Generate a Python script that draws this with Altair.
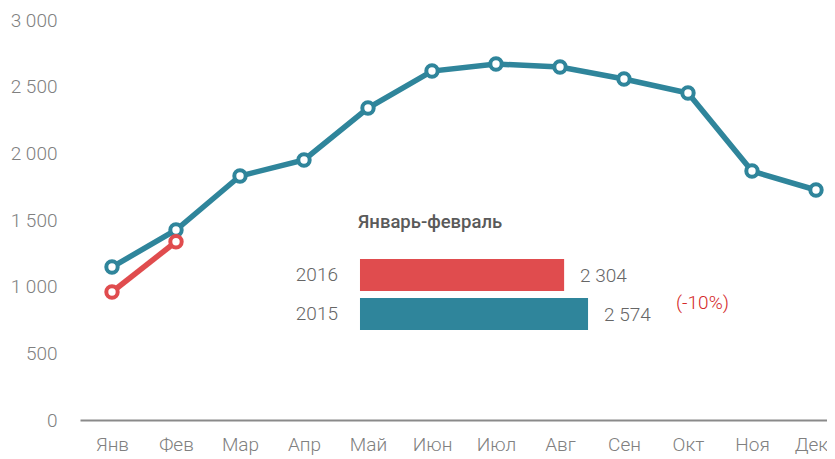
import altair as alt
import pandas as pd

months = ["Янв", "Фев", "Мар", "Апр", "Май", "Июн", "Июл", "Авг", "Сен", "Окт", "Ноя", "Дек"]
values_2015 = [1147, 1425, 1830, 1950, 2340, 2617, 2670, 2647, 2557, 2452, 1867, 1725]
values_2016 = [960, 1337]
y_ticks = [0, 500, 1000, 1500, 2000, 2500, 3000]

inset_title = "Январь-февраль"
inset_years = ["2016", "2015"]
inset_values = [2304, 2574]

TEAL = "#2f859b"
RED = "#e04c4e"
FONT = "Roboto"

rows = []
for i, v in enumerate(values_2015):
    rows.append({"idx": i, "series": "2015", "value": v})
for i, v in enumerate(values_2016):
    rows.append({"idx": i, "series": "2016", "value": v})
df = pd.DataFrame(rows)

month_js = "[" + ",".join("'" + m + "'" for m in months) + "]"
last = len(months) - 1

x_main = alt.X(
    "idx:Q",
    scale=alt.Scale(domain=[-0.5, 11.172], nice=False, zero=False),
    axis=alt.Axis(
        values=list(range(12)),
        labelExpr=month_js + "[datum.value]",
        grid=False, ticks=False, domain=True, domainColor="#8a8a8a", domainWidth=2,
        labelFont=FONT, labelFontSize=19, labelFontWeight=300, labelColor="#808080",
        labelPadding=15, title=None, labelFlush=False,
        labelOffset={"expr": f"datum.value == {last} ? -5 : 0"},
    ),
)
y_main = alt.Y(
    "value:Q",
    scale=alt.Scale(domain=[0, 3000], nice=False),
    axis=alt.Axis(
        values=y_ticks, labelExpr="replace(format(datum.value, ',d'), ',', ' ')",
        grid=False, ticks=False, domain=False,
        labelFont=FONT, labelFontSize=19, labelFontWeight=300, labelColor="#808080",
        labelPadding=23, title=None,
    ),
)
color = alt.Color("series:N", scale=alt.Scale(domain=["2015", "2016"], range=[TEAL, RED]), legend=None)

base = alt.Chart(df)
lines = base.mark_line(strokeWidth=5.5).encode(x=x_main, y=y_main, color=color, detail="series:N")
points = base.mark_point(shape="circle", fill="white", fillOpacity=1, opacity=1,
                         strokeWidth=4, size=130).encode(x=x_main, y=y_main, color=color)
main = alt.layer(lines, points)

# inset bar chart
bdf = pd.DataFrame({"year": inset_years, "value": inset_values})
change = round((inset_values[0] / inset_values[1] - 1) * 100)
bdf["label"] = [f"{v:,}".replace(",", " ") for v in inset_values]
bdf["change"] = f"({change}%)"

XB_DOMAIN = [-3160, 5271]
xb = alt.X("value:Q", scale=alt.Scale(domain=XB_DOMAIN, nice=False, zero=False), axis=None)
xb0 = alt.X("zero:Q", scale=alt.Scale(domain=XB_DOMAIN, nice=False, zero=False), axis=None)
yb = alt.Y("year:N", sort=inset_years,
           scale=alt.Scale(range=[239, 310], paddingInner=0.18, paddingOuter=0), axis=None)
cb = alt.Color("year:N", scale=alt.Scale(domain=["2015", "2016"], range=[TEAL, RED]), legend=None)

bbase = alt.Chart(bdf).transform_calculate(zero="0")
bars = bbase.mark_bar().encode(x=xb, x2=alt.X2("zero:Q"), y=yb, color=cb)
bar_vals = bbase.mark_text(align="left", baseline="middle", dx=16, dy=1, font=FONT,
                           fontSize=19, fontWeight=300, color="#666666").encode(
    x=xb, y=yb, text="label:N")
bar_years = bbase.mark_text(align="right", baseline="middle", dx=-22, font=FONT,
                            fontSize=19, fontWeight=300, color="#666666").encode(
    x=xb0, y=yb, text="year:N")
title_txt = bbase.transform_filter(alt.datum.year == inset_years[0]).mark_text(
    align="left", baseline="middle", dx=-2, dy=-53, font=FONT, fontSize=18.5,
    fontWeight=500, color="#5a5a5a").encode(
    x=xb0, y=yb, text=alt.value(inset_title))
change_txt = bbase.transform_filter(alt.datum.year == inset_years[1]).mark_text(
    align="left", baseline="middle", dx=88, dy=-11, font=FONT, fontSize=19,
    fontWeight=300, color="#d42a2a").encode(
    x=xb, y=yb, text="change:N")

inset = alt.layer(bars, bar_vals, bar_years, title_txt, change_txt)

chart = alt.layer(main, inset).resolve_scale(
    x="independent", y="independent", color="independent"
).properties(
    width=747, height=400,
    padding={"left": 72, "top": 12, "right": 0, "bottom": 39},
    autosize=alt.AutoSizeParams(type="none"),
    background="white",
).configure_view(strokeWidth=0, stroke="transparent")

chart.save("out.html", embed_options={"renderer": "svg", "actions": False})
